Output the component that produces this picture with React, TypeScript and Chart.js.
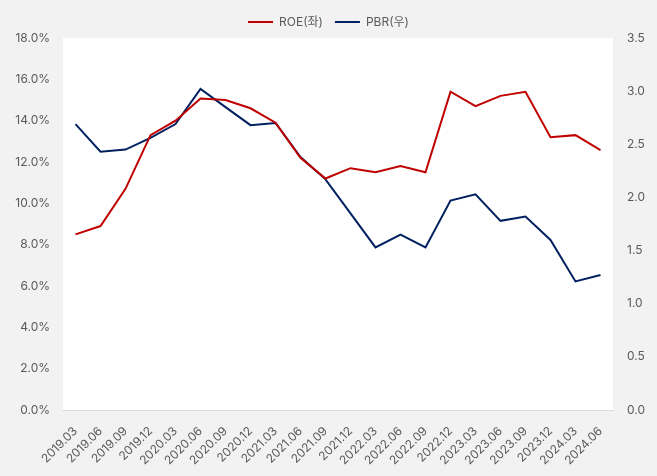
import React, { useEffect, useRef } from "react";
import { Chart, registerables } from "chart.js";

Chart.register(...registerables);

const categories = [
  "2019.03", "2019.06", "2019.09", "2019.12", "2020.03", "2020.06", "2020.09", "2020.12",
  "2021.03", "2021.06", "2021.09", "2021.12", "2022.03", "2022.06", "2022.09", "2022.12",
  "2023.03", "2023.06", "2023.09", "2023.12", "2024.03", "2024.06",
];

const roe = [
  8.5, 8.9, 10.7, 13.3, 14.0, 15.07, 15.0, 14.6, 13.9, 12.2, 11.2, 11.7,
  11.5, 11.8, 11.5, 15.4, 14.7, 15.2, 15.4, 13.2, 13.3, 12.57,
];

const pbr = [
  2.69, 2.43, 2.45, 2.56, 2.69, 3.02, 2.85, 2.68, 2.70, 2.38, 2.17, 1.85,
  1.53, 1.65, 1.53, 1.97, 2.03, 1.78, 1.82, 1.60, 1.21, 1.27,
];

const seriesNames = ["ROE(좌)", "PBR(우)"];

const FONT = "Inter, 'Noto Sans CJK KR', 'Noto Sans', sans-serif";
const TEXT = "#595959";

const plotBg = {
  id: "plotBg",
  beforeDraw(chart: any) {
    const { ctx, chartArea } = chart;
    ctx.save();
    ctx.fillStyle = "#ffffff";
    ctx.fillRect(chartArea.left, chartArea.top, chartArea.right - chartArea.left, chartArea.bottom - chartArea.top);
    ctx.restore();
  },
};

export default function App() {
  const ref = useRef<HTMLCanvasElement>(null);
  useEffect(() => {
    if (!ref.current) return;
    const chart = new Chart(ref.current, {
      type: "line",
      data: {
        labels: categories,
        datasets: [
          {
            label: seriesNames[0],
            data: roe,
            borderColor: "#C00000",
            backgroundColor: "#C00000",
            borderWidth: 2,
            pointRadius: 0,
            tension: 0,
            yAxisID: "y",
          },
          {
            label: seriesNames[1],
            data: pbr,
            borderColor: "#002060",
            backgroundColor: "#002060",
            borderWidth: 2,
            pointRadius: 0,
            tension: 0,
            yAxisID: "y1",
          },
        ],
      },
      options: {
        responsive: false,
        animation: false,
        layout: { padding: { top: 4, left: 0, right: 0, bottom: 0 } },
        plugins: {
          legend: {
            position: "top",
            labels: {
              usePointStyle: true,
              pointStyle: "line",
              pointStyleWidth: 25,
              padding: 12,
              color: TEXT,
              font: { family: FONT, size: 12 },
            },
          },
          tooltip: { enabled: false },
        },
        scales: {
          x: {
            offset: true,
            grid: { display: false, drawTicks: false },
            border: { display: true, color: "#d9d9d9", width: 1 },
            ticks: {
              color: TEXT,
              font: { family: FONT, size: 12 },
              maxRotation: 45,
              minRotation: 45,
              autoSkip: false,
              padding: 14,
            },
            afterFit(s: any) {
              s.height = 66;
            },
          },
          y: {
            position: "left",
            min: 0,
            max: 18,
            grid: { display: false, drawTicks: false },
            border: { display: false },
            ticks: {
              stepSize: 2,
              color: TEXT,
              font: { family: FONT, size: 12 },
              padding: 13,
              callback: (v: any) => Number(v).toFixed(1) + "%",
            },
            afterFit(s: any) {
              s.width = 63;
            },
          },
          y1: {
            position: "right",
            min: 0,
            max: 3.5,
            grid: { display: false, drawTicks: false },
            border: { display: false },
            ticks: {
              stepSize: 0.5,
              color: TEXT,
              font: { family: FONT, size: 12 },
              padding: 14,
              callback: (v: any) => Number(v).toFixed(1),
            },
            afterFit(s: any) {
              s.width = 44;
            },
          },
        },
      },
      plugins: [plotBg],
    });
    return () => chart.destroy();
  }, []);
  return (
    <div style={{ position: "fixed", left: 0, top: 0, width: 657, height: 476, background: "#f2f2f2" }}>
      <canvas ref={ref} width={657} height={476} style={{ display: "block" }} />
    </div>
  );
}
